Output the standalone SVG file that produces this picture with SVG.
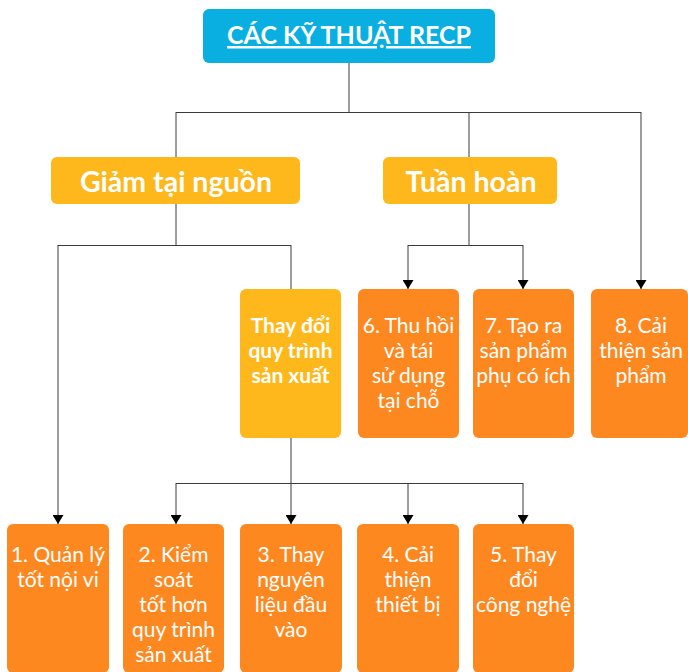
<svg xmlns="http://www.w3.org/2000/svg" width="688" height="672" viewBox="0 0 688 672">
  <defs>
    <marker id="arrow" viewBox="0 0 9 11" refX="9" refY="5.5" markerWidth="9" markerHeight="11" markerUnits="userSpaceOnUse" orient="auto">
      <path d="M0,0 L9,5.5 L0,11 Z" fill="#000"/>
    </marker>
    <style>
      .lnk { fill: none; stroke: #3a3a3a; stroke-width: 1; }
      .arr { marker-end: url(#arrow); }
      .blue { fill: #0aafe2; }
      .yellow { fill: #feb81b; }
      .orange { fill: #fe8820; }
      text { font-family: Lato, "Noto Sans", "Liberation Sans", sans-serif; fill: #fff; text-anchor: middle; }
      .title { font-size: 25px; font-weight: 700; text-decoration: underline; text-decoration-thickness: 1.5px; text-underline-offset: 6px; }
      .head { font-size: 28.5px; font-weight: 700; }
      .sub { font-size: 21px; font-weight: 700; }
      .item { font-size: 21px; font-weight: 400; }
    </style>
  </defs>
  <rect width="688" height="672" fill="#fff"/>

  <!-- connectors -->
  <g id="connectors">
    <path class="lnk" d="M349,63 V112.5 M176,112.5 H641 M176,112 V157 M469,112 V157"/>
    <path class="lnk arr" d="M641,112 V289"/>
    <path class="lnk" d="M176,204 V245.5 M58,245.5 H291 M291,245 V289"/>
    <path class="lnk arr" d="M58,245 V524"/>
    <path class="lnk" d="M469,204 V245.5 M408,245.5 H523"/>
    <path class="lnk arr" d="M408,245 V289"/>
    <path class="lnk arr" d="M523,245 V289"/>
    <path class="lnk arr" d="M291,438 V524"/>
    <path class="lnk" d="M176,483.5 H523"/>
    <path class="lnk arr" d="M176,483 V524"/>
    <path class="lnk arr" d="M408,483 V524"/>
    <path class="lnk arr" d="M523,483 V524"/>
  </g>

  <!-- root -->
  <g id="root">
    <rect class="blue" x="203" y="9" width="292" height="54" rx="6"/>
    <text class="title" x="349" y="44">CÁC KỸ THUẬT RECP</text>
  </g>

  <!-- branches -->
  <g id="giam-tai-nguon">
    <rect class="yellow" x="51" y="157" width="249" height="47" rx="6"/>
    <text class="head" x="176" y="192">Giảm tại nguồn</text>
  </g>
  <g id="tuan-hoan">
    <rect class="yellow" x="383" y="157" width="174" height="47" rx="6"/>
    <text class="head" x="471" y="192">Tuần hoàn</text>
  </g>

  <g id="thay-doi-quy-trinh">
    <rect class="yellow" x="240" y="289" width="101" height="149" rx="6"/>
    <text class="sub"><tspan x="290.5" y="333">Thay đổi</tspan><tspan x="290.5" y="358">quy trình</tspan><tspan x="290.5" y="383">sản xuất</tspan></text>
  </g>

  <!-- recycling techniques -->
  <g id="k6">
    <rect class="orange" x="358" y="289" width="101" height="149" rx="6"/>
    <text class="item"><tspan x="408.5" y="333">6. Thu hồi</tspan><tspan x="408.5" y="358">và tái</tspan><tspan x="408.5" y="383">sử dụng</tspan><tspan x="408.5" y="408">tại chỗ</tspan></text>
  </g>
  <g id="k7">
    <rect class="orange" x="473" y="289" width="101" height="149" rx="6"/>
    <text class="item"><tspan x="523.5" y="333">7. Tạo ra</tspan><tspan x="523.5" y="358">sản phẩm</tspan><tspan x="523.5" y="383">phụ có ích</tspan></text>
  </g>
  <g id="k8">
    <rect class="orange" x="591" y="289" width="97" height="149" rx="6"/>
    <text class="item"><tspan x="641" y="333">8. Cải</tspan><tspan x="641" y="358">thiện sản</tspan><tspan x="641" y="383">phẩm</tspan></text>
  </g>

  <!-- source-reduction techniques -->
  <g id="k1">
    <rect class="orange" x="7" y="524" width="102" height="149" rx="6"/>
    <text class="item"><tspan x="58" y="562">1. Quản lý</tspan><tspan x="58" y="587">tốt nội vi</tspan></text>
  </g>
  <g id="k2">
    <rect class="orange" x="123" y="524" width="101" height="149" rx="6"/>
    <text class="item"><tspan x="173.5" y="562">2. Kiểm</tspan><tspan x="173.5" y="587">soát</tspan><tspan x="173.5" y="612">tốt hơn</tspan><tspan x="173.5" y="637">quy trình</tspan><tspan x="173.5" y="662">sản xuất</tspan></text>
  </g>
  <g id="k3">
    <rect class="orange" x="240" y="524" width="102" height="149" rx="6"/>
    <text class="item"><tspan x="291" y="562">3. Thay</tspan><tspan x="291" y="587">nguyên</tspan><tspan x="291" y="612">liệu đầu</tspan><tspan x="291" y="637">vào</tspan></text>
  </g>
  <g id="k4">
    <rect class="orange" x="357" y="524" width="102" height="149" rx="6"/>
    <text class="item"><tspan x="408" y="562">4. Cải</tspan><tspan x="408" y="587">thiện</tspan><tspan x="408" y="612">thiết bị</tspan></text>
  </g>
  <g id="k5">
    <rect class="orange" x="473" y="524" width="101" height="149" rx="6"/>
    <text class="item"><tspan x="523.5" y="562">5. Thay</tspan><tspan x="523.5" y="587">đổi</tspan><tspan x="523.5" y="612">công nghệ</tspan></text>
  </g>
</svg>
